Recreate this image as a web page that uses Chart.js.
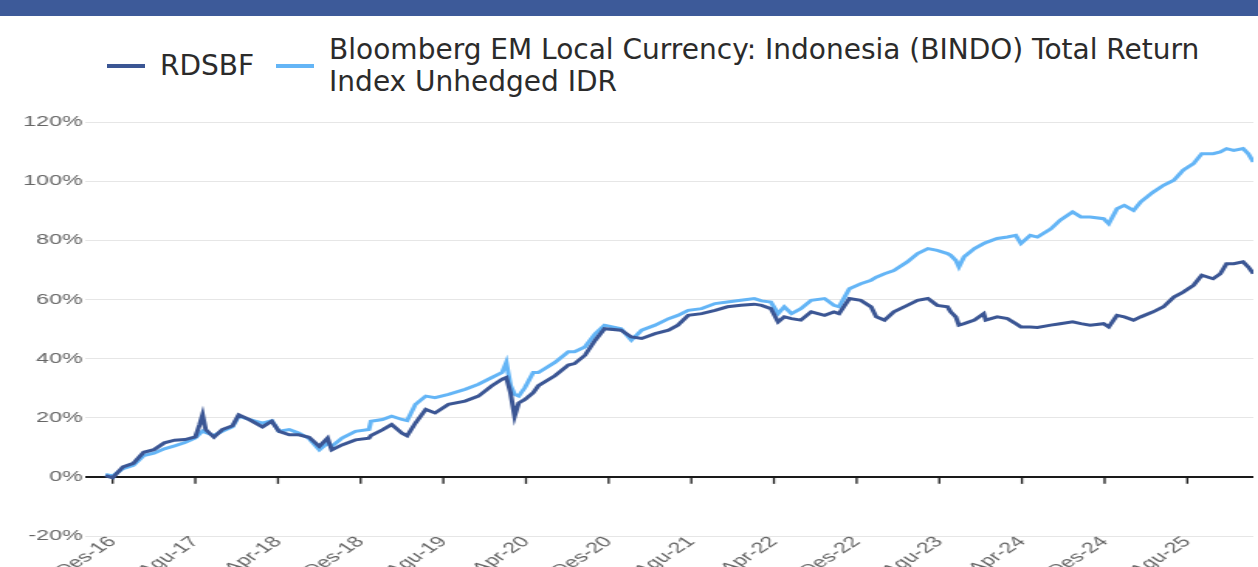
<!DOCTYPE html>
<html>
<head>
<meta charset="utf-8">
<title>RDSBF vs BINDO</title>
<script src="https://cdn.jsdelivr.net/npm/chart.js@4.4.1/dist/chart.umd.min.js"></script>
<style>
    html, body { margin: 0; padding: 0; background: #fff; width: 1258px; height: 567px; overflow: hidden; position: relative; }
    .topbar { position: absolute; left: 0; top: 0; width: 1258px; height: 16px; background: #3d5a99; }
    #legend { position: absolute; left: 107px; top: 34px; width: 1120px; }
    #legend ul { list-style: none; margin: 0; padding: 0; display: flex; align-items: center; }
    #legend li { display: flex; align-items: center; margin-right: 22px; }
    #legend .swatch { width: 38px; height: 4px; margin-right: 15px; flex: none; }
    #legend .text { font-family: 'DejaVu Sans', sans-serif; font-weight: normal; font-size: 28px; line-height: 32px; color: #2b2b2b; }
    /* the original canvas is stretched sideways, so draw narrow and scale on x */
    .chart-wrap { position: absolute; left: 0; top: 100px; width: 812px; height: 476px; transform: scaleX(1.5493); transform-origin: 0 0; }
</style>
</head>
<body>
<div class="topbar"></div>
<div id="legend"><ul></ul></div>
<div class="chart-wrap"><canvas id="perf-chart"></canvas></div>

<script>
// Cumulative return (%) since inception, x = months after Dec-2016
const monthsFromDec16 = [
    -0.7, 0, 1, 2, 3, 4, 5, 6, 7, 8,
    8.4, 8.7, 9, 9.8, 10.6, 11.6, 12.2, 13.2, 14.5, 15.4,
    16.1, 17.1, 18, 19, 20, 20.8, 21.2, 22.2, 23.5, 24.8,
    25, 26.1, 27, 28, 28.5, 29.3, 30.3, 31.2, 32.5, 34.1,
    35.4, 36.7, 37.7, 38.1, 38.5, 38.9, 39.3, 39.9, 40.7, 41.2,
    42.8, 44.1, 44.7, 45.7, 46.7, 47.6, 49.2, 50.2, 51.2, 52.5,
    53.8, 54.7, 55.7, 57, 58.3, 59.5, 60.8, 62.1, 62.8, 63.7,
    64.4, 65, 65.7, 66.6, 67.6, 68.9, 69.8, 70.3, 71.3, 72.4,
    73.4, 73.9, 74.7, 75.6, 76.9, 77.9, 78.9, 79.8, 80.8, 81.1,
    81.6, 81.9, 82.4, 83.4, 84.3, 84.5, 85.6, 86.6, 87.4, 87.9,
    88.8, 89.5, 90.8, 91.7, 92.9, 93.7, 94.6, 95.9, 96.4, 97.2,
    97.9, 98.8, 99.5, 100.7, 101.7, 102.7, 103.6, 104.6, 105.4, 106.5,
    107.2, 107.8, 108.5, 109.4, 109.9, 110.4
];

const rdsbf = [
    0.4, -0.3, 3.4, 4.6, 8.3, 9.2, 11.5, 12.4, 12.6, 13.5,
    17.5, 21.0, 16.0, 13.4, 16.0, 17.3, 21.0, 19.4, 16.9, 18.8,
    15.4, 14.2, 14.2, 13.4, 10.3, 13.1, 9.1, 10.8, 12.5, 13.1,
    14.0, 15.9, 17.7, 14.8, 13.9, 18.2, 22.8, 21.6, 24.5, 25.6,
    27.3, 30.8, 33.0, 33.6, 28.5, 20.5, 25.0, 26.2, 28.5, 30.8,
    34.2, 37.8, 38.3, 41.1, 46.2, 50.1, 49.6, 47.3, 46.8, 48.4,
    49.6, 51.3, 54.6, 55.2, 56.3, 57.5, 58.0, 58.4, 58.0, 56.9,
    52.4, 54.1, 53.5, 53.0, 55.8, 54.6, 55.8, 55.2, 60.3, 59.7,
    57.5, 54.1, 53.0, 55.8, 58.0, 59.7, 60.3, 58.0, 57.5, 55.8,
    54.1, 51.3, 51.8, 53.0, 55.2, 53.0, 54.1, 53.5, 51.8, 50.7,
    50.7, 50.5, 51.3, 51.8, 52.4, 51.8, 51.3, 51.8, 50.7, 54.6,
    54.1, 53.0, 54.1, 55.8, 57.5, 60.8, 62.5, 64.8, 68.2, 67.0,
    68.7, 72.1, 72.1, 72.7, 71.0, 68.7
];

const bindo = [
    0.8, 0.3, 2.8, 3.9, 7.2, 8.0, 9.5, 10.5, 11.6, 13.2,
    14.5, 15.5, 15.0, 14.0, 15.4, 16.9, 20.5, 19.4, 18.2, 19.0,
    15.4, 16.0, 14.8, 13.0, 9.1, 11.4, 10.3, 13.1, 15.4, 16.0,
    18.8, 19.4, 20.5, 19.4, 19.0, 24.5, 27.3, 26.8, 27.9, 29.6,
    31.3, 33.6, 35.3, 38.7, 31.0, 27.9, 27.3, 30.2, 35.3, 35.3,
    38.7, 42.3, 42.3, 43.9, 48.4, 51.3, 50.1, 46.2, 49.6, 51.3,
    53.5, 54.6, 56.3, 56.9, 58.6, 59.1, 59.7, 60.3, 59.5, 59.1,
    55.2, 57.5, 55.2, 56.9, 59.7, 60.3, 58.0, 57.5, 63.6, 65.3,
    66.5, 67.5, 68.7, 69.8, 72.7, 75.5, 77.2, 76.6, 75.5, 74.9,
    73.2, 71.0, 74.4, 77.2, 78.9, 79.2, 80.6, 81.1, 81.7, 78.9,
    81.7, 81.1, 83.9, 86.8, 89.6, 87.9, 87.9, 87.3, 85.6, 90.7,
    91.8, 90.1, 93.0, 96.3, 98.6, 100.3, 103.7, 105.9, 109.3, 109.3,
    109.9, 111.0, 110.4, 111.0, 109.3, 106.5
];

const seriesNames = ['RDSBF', 'Bloomberg EM Local Currency: Indonesia (BINDO) Total Return Index Unhedged IDR'];
const seriesColors = ['#3b5694', '#64b5f6'];

const tickMonths = [0, 8, 16, 24, 32, 40, 48, 56, 64, 72, 80, 88, 96, 104];
const tickLabels = ['Des-16', 'Agu-17', 'Apr-18', 'Des-18', 'Agu-19', 'Apr-20', 'Des-20',
    'Agu-21', 'Apr-22', 'Des-22', 'Agu-23', 'Apr-24', 'Des-24', 'Agu-25'];

const axisFont = { family: "'Liberation Sans', Arial, sans-serif", size: 15 };

function toPoints(values) {
    return monthsFromDec16.map((m, i) => ({ x: m, y: values[i] }));
}

// Legend lives in HTML so the text is not stretched with the canvas
const htmlLegend = {
    id: 'htmlLegend',
    afterUpdate(chart) {
        const ul = document.querySelector('#legend ul');
        ul.innerHTML = '';
        chart.data.datasets.forEach(ds => {
            const li = document.createElement('li');
            const swatch = document.createElement('span');
            swatch.className = 'swatch';
            swatch.style.background = ds.borderColor;
            const text = document.createElement('span');
            text.className = 'text';
            text.textContent = ds.label;
            li.appendChild(swatch);
            li.appendChild(text);
            ul.appendChild(li);
        });
    }
};

// small tick marks hanging under the 0% line
const zeroAxisTicks = {
    id: 'zeroAxisTicks',
    beforeDatasetsDraw(chart) {
        const { ctx, scales: { x, y } } = chart;
        const y0 = y.getPixelForValue(0);
        ctx.save();
        ctx.strokeStyle = '#1a1a1a';
        ctx.lineWidth = 1.3;
        x.ticks.forEach(t => {
            const px = x.getPixelForValue(t.value);
            ctx.beginPath();
            ctx.moveTo(px, y0);
            ctx.lineTo(px, y0 + 7);
            ctx.stroke();
        });
        ctx.restore();
    }
};

const ctx = document.getElementById('perf-chart').getContext('2d');
const chart = new Chart(ctx, {
    type: 'line',
    data: {
        datasets: [
            { label: seriesNames[0], data: toPoints(rdsbf), borderColor: seriesColors[0], backgroundColor: seriesColors[0] },
            { label: seriesNames[1], data: toPoints(bindo), borderColor: seriesColors[1], backgroundColor: seriesColors[1] }
        ]
    },
    options: {
        responsive: true,
        maintainAspectRatio: false,
        animation: false,
        layout: { padding: { left: 13, right: 3, top: 22, bottom: 0 } },
        elements: {
            line: { borderWidth: 3, tension: 0 },
            point: { radius: 0 }
        },
        plugins: {
            legend: { display: false },
            tooltip: { enabled: false }
        },
        scales: {
            x: {
                type: 'linear',
                min: -2.6,
                max: 110.4,
                afterBuildTicks: scale => { scale.ticks = tickMonths.map(v => ({ value: v })); },
                afterFit: scale => { scale.height = 40; },
                grid: { display: false },
                border: { display: false },
                ticks: {
                    autoSkip: false,
                    minRotation: 45,
                    maxRotation: 45,
                    padding: -11,
                    color: '#666',
                    font: axisFont,
                    callback: value => tickLabels[tickMonths.indexOf(value)]
                }
            },
            y: {
                min: -20,
                max: 120,
                border: { display: false },
                grid: {
                    drawTicks: false,
                    color: c => c.tick && c.tick.value === 0 ? '#1a1a1a' : '#e6e6e6',
                    lineWidth: c => c.tick && c.tick.value === 0 ? 2 : 1
                },
                ticks: {
                    stepSize: 20,
                    padding: 2,
                    color: '#666',
                    font: axisFont,
                    callback: value => value + '%'
                }
            }
        }
    },
    plugins: [htmlLegend, zeroAxisTicks]
});
</script>
</body>
</html>
